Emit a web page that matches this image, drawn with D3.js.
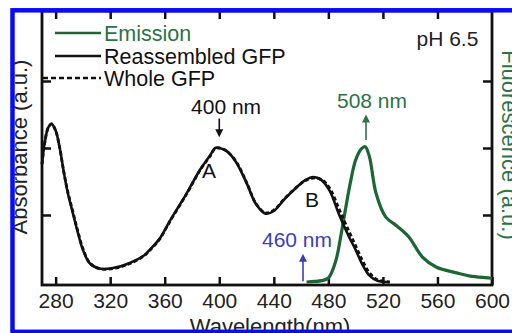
<!DOCTYPE html>
<html>
<head>
<meta charset="utf-8">
<script src="https://cdn.jsdelivr.net/npm/d3@7"></script>
<style>
  html, body { margin: 0; padding: 0; background: #fff; }
  svg { display: block; font-family: "Liberation Sans", Arial, sans-serif; }
</style>
</head>
<body>
<svg id="chart" width="512" height="333"></svg>
<script>
// absorbance spectra (normalised, a.u.)
const absWavelengths = [270, 272, 274.5, 277, 280, 283, 286, 289, 292, 296, 300, 305, 312, 322, 334, 345, 349, 356, 364, 376, 386, 393, 397, 400, 405, 412, 420, 427, 434, 440, 448, 456, 463, 469, 475, 481, 488, 495, 500, 505, 510, 516, 525];
const reassembledAbs = [0.44, 0.52, 0.575, 0.59, 0.565, 0.50, 0.41, 0.33, 0.27, 0.19, 0.12, 0.07, 0.05, 0.052, 0.07, 0.10, 0.12, 0.16, 0.23, 0.33, 0.42, 0.47, 0.5, 0.5, 0.49, 0.45, 0.37, 0.29, 0.255, 0.265, 0.31, 0.35, 0.38, 0.392, 0.38, 0.34, 0.25, 0.17, 0.12, 0.065, 0.025, 0.005, 0.0];
const wholeAbs = [0.44, 0.52, 0.575, 0.59, 0.565, 0.50, 0.41, 0.335, 0.275, 0.195, 0.125, 0.072, 0.05, 0.05, 0.068, 0.098, 0.118, 0.158, 0.228, 0.328, 0.418, 0.468, 0.498, 0.5, 0.49, 0.452, 0.372, 0.292, 0.258, 0.268, 0.312, 0.35, 0.378, 0.388, 0.382, 0.35, 0.27, 0.19, 0.135, 0.08, 0.035, 0.008, 0.0];

// emission spectrum (normalised, a.u.)
const emWavelengths = [464, 470, 475, 480, 485.5, 489, 492.5, 496.5, 500, 504, 507, 510, 515, 522, 530, 539, 549, 559, 574, 584, 598, 600];
const emission = [0.0, 0.002, 0.005, 0.015, 0.08, 0.168, 0.27, 0.38, 0.455, 0.496, 0.505, 0.47, 0.33, 0.243, 0.21, 0.168, 0.093, 0.056, 0.034, 0.022, 0.015, 0.013];

const xTicks = [280, 320, 360, 400, 440, 480, 520, 560, 600];
const yTicks = [0.25, 0.5, 0.75];

const legendItems = ['Emission', 'Reassembled GFP', 'Whole GFP'];

// text annotations: [label, wavelength, value, colour]
const labels = [
  ['400 nm', 405, 0.627, '#111'],
  ['508 nm', 512, 0.649, '#2c7346'],
  ['460 nm', 457, 0.13, '#3b3fb5'],
  ['A', 392.5, 0.388, '#111'],
  ['B', 468, 0.28, '#111'],
];
// arrows: [wavelength, fromValue, toValue, colour]
const arrows = [
  [400, 0.61, 0.54, '#111'],
  [507.6, 0.53, 0.625, '#2c7346'],
  [461.4, 0.003, 0.105, '#3b3fb5'],
];

const green = '#1d6534';
const blue = '#0a0aff';

const svg = d3.select('#chart');

const plotLeft = 42, plotRight = 492, plotTop = 11, plotBottom = 285;

const x = d3.scaleLinear().domain([270, 600]).range([plotLeft, plotRight]);
const y = d3.scaleLinear().domain([0, 1]).range([282, 14]);

//
// Axes (ticks inward, all four sides)
//

const axisStyle = (g) => {
  g.select('.domain').remove();
  g.selectAll('.tick line').attr('stroke', '#111').attr('stroke-width', 2.5);
  g.selectAll('.tick text')
    .attr('fill', '#222')
    .attr('font-size', 21)
    .attr('font-family', '"Liberation Sans", Arial, sans-serif');
};

svg.append('g')
  .attr('transform', `translate(0,${plotBottom})`)
  .call(d3.axisBottom(x).tickValues(xTicks).tickSizeInner(-8).tickSizeOuter(0).tickPadding(8))
  .call(axisStyle);

svg.append('g')
  .attr('transform', `translate(0,${plotTop})`)
  .call(d3.axisTop(x).tickValues(xTicks.slice(0, -1)).tickSizeInner(-8).tickSizeOuter(0).tickFormat(() => ''))
  .call(axisStyle);

svg.append('g')
  .attr('transform', `translate(${plotLeft},0)`)
  .call(d3.axisLeft(y).tickValues(yTicks).tickSizeInner(-9).tickSizeOuter(0).tickFormat(() => ''))
  .call(axisStyle);

svg.append('g')
  .attr('transform', `translate(${plotRight},0)`)
  .call(d3.axisRight(y).tickValues(yTicks).tickSizeInner(-9).tickSizeOuter(0).tickFormat(() => ''))
  .call(axisStyle);

svg.append('rect')
  .attr('x', plotLeft)
  .attr('y', plotTop)
  .attr('width', plotRight - plotLeft)
  .attr('height', plotBottom - plotTop)
  .attr('fill', 'none')
  .attr('stroke', '#111')
  .attr('stroke-width', 2.8);

//
// Curves
//

const line = (xs, ys) =>
  d3.line()
    .curve(d3.curveCatmullRom)
    .x((d, i) => x(xs[i]))
    .y((d) => y(d))(ys);

svg.append('path')
  .attr('d', line(emWavelengths, emission))
  .attr('fill', 'none')
  .attr('stroke', green)
  .attr('stroke-width', 3.2);

svg.append('path')
  .attr('d', line(absWavelengths, wholeAbs))
  .attr('fill', 'none')
  .attr('stroke', '#111')
  .attr('stroke-width', 2.8)
  .attr('stroke-dasharray', '4,2.5');

svg.append('path')
  .attr('d', line(absWavelengths, reassembledAbs))
  .attr('fill', 'none')
  .attr('stroke', '#111')
  .attr('stroke-width', 2.6);

//
// Annotations
//

svg.selectAll('.label')
  .data(labels)
  .join('text')
  .attr('class', 'label')
  .attr('x', (d) => x(d[1]))
  .attr('y', (d) => y(d[2]))
  .attr('text-anchor', 'middle')
  .attr('font-size', 21)
  .attr('fill', (d) => d[3])
  .text((d) => d[0]);

arrows.forEach(([nm, v0, v1, c]) => {
  const ax = x(nm), y0 = y(v0), y1 = y(v1);
  const dir = y1 > y0 ? 1 : -1;
  svg.append('line')
    .attr('x1', ax).attr('x2', ax)
    .attr('y1', y0).attr('y2', y1 - dir * 5)
    .attr('stroke', c)
    .attr('stroke-width', 1.6);
  svg.append('path')
    .attr('d', `M${ax - 4},${y1 - dir * 8}L${ax},${y1}L${ax + 4},${y1 - dir * 8}Z`)
    .attr('fill', c);
});

svg.append('text')
  .attr('x', x(590))
  .attr('y', y(0.88))
  .attr('text-anchor', 'end')
  .attr('font-size', 21)
  .attr('fill', '#222')
  .text('pH 6.5');

//
// Legend
//

const legendRows = [
  { y: 33, x0: 55, color: green, dash: null, textColor: '#2c7346' },
  { y: 56, x0: 55, color: '#111', dash: null, textColor: '#111' },
  { y: 78, x0: 43, color: '#111', dash: '5,3', textColor: '#111' },
];

legendRows.forEach((r, i) => {
  svg.append('line')
    .attr('x1', r.x0).attr('x2', 101)
    .attr('y1', r.y).attr('y2', r.y)
    .attr('stroke', r.color)
    .attr('stroke-width', 2.5)
    .attr('stroke-dasharray', r.dash);
  svg.append('text')
    .attr('x', 104)
    .attr('y', r.y + 8)
    .attr('font-size', 21.5)
    .attr('fill', r.textColor)
    .text(legendItems[i]);
});

//
// Axis titles
//

svg.append('text')
  .attr('transform', `translate(27,147) rotate(-90)`)
  .attr('text-anchor', 'middle')
  .attr('font-size', 22)
  .attr('fill', '#222')
  .text('Absorbance (a.u.)');

svg.append('text')
  .attr('transform', `translate(502,145) rotate(90)`)
  .attr('text-anchor', 'middle')
  .attr('font-size', 22)
  .attr('fill', '#2c7346')
  .text('Fluorescence (a.u.)');

svg.append('text')
  .attr('x', 270)
  .attr('y', 334)
  .attr('text-anchor', 'middle')
  .attr('font-size', 22)
  .attr('fill', '#222')
  .text('Wavelength(nm)');

//
// Blue frame around the figure
//

svg.append('rect')
  .attr('x', 12.5)
  .attr('y', 10.3)
  .attr('width', 540)
  .attr('height', 321.5)
  .attr('fill', 'none')
  .attr('stroke', blue)
  .attr('stroke-width', 4.5);
</script>
</body>
</html>
